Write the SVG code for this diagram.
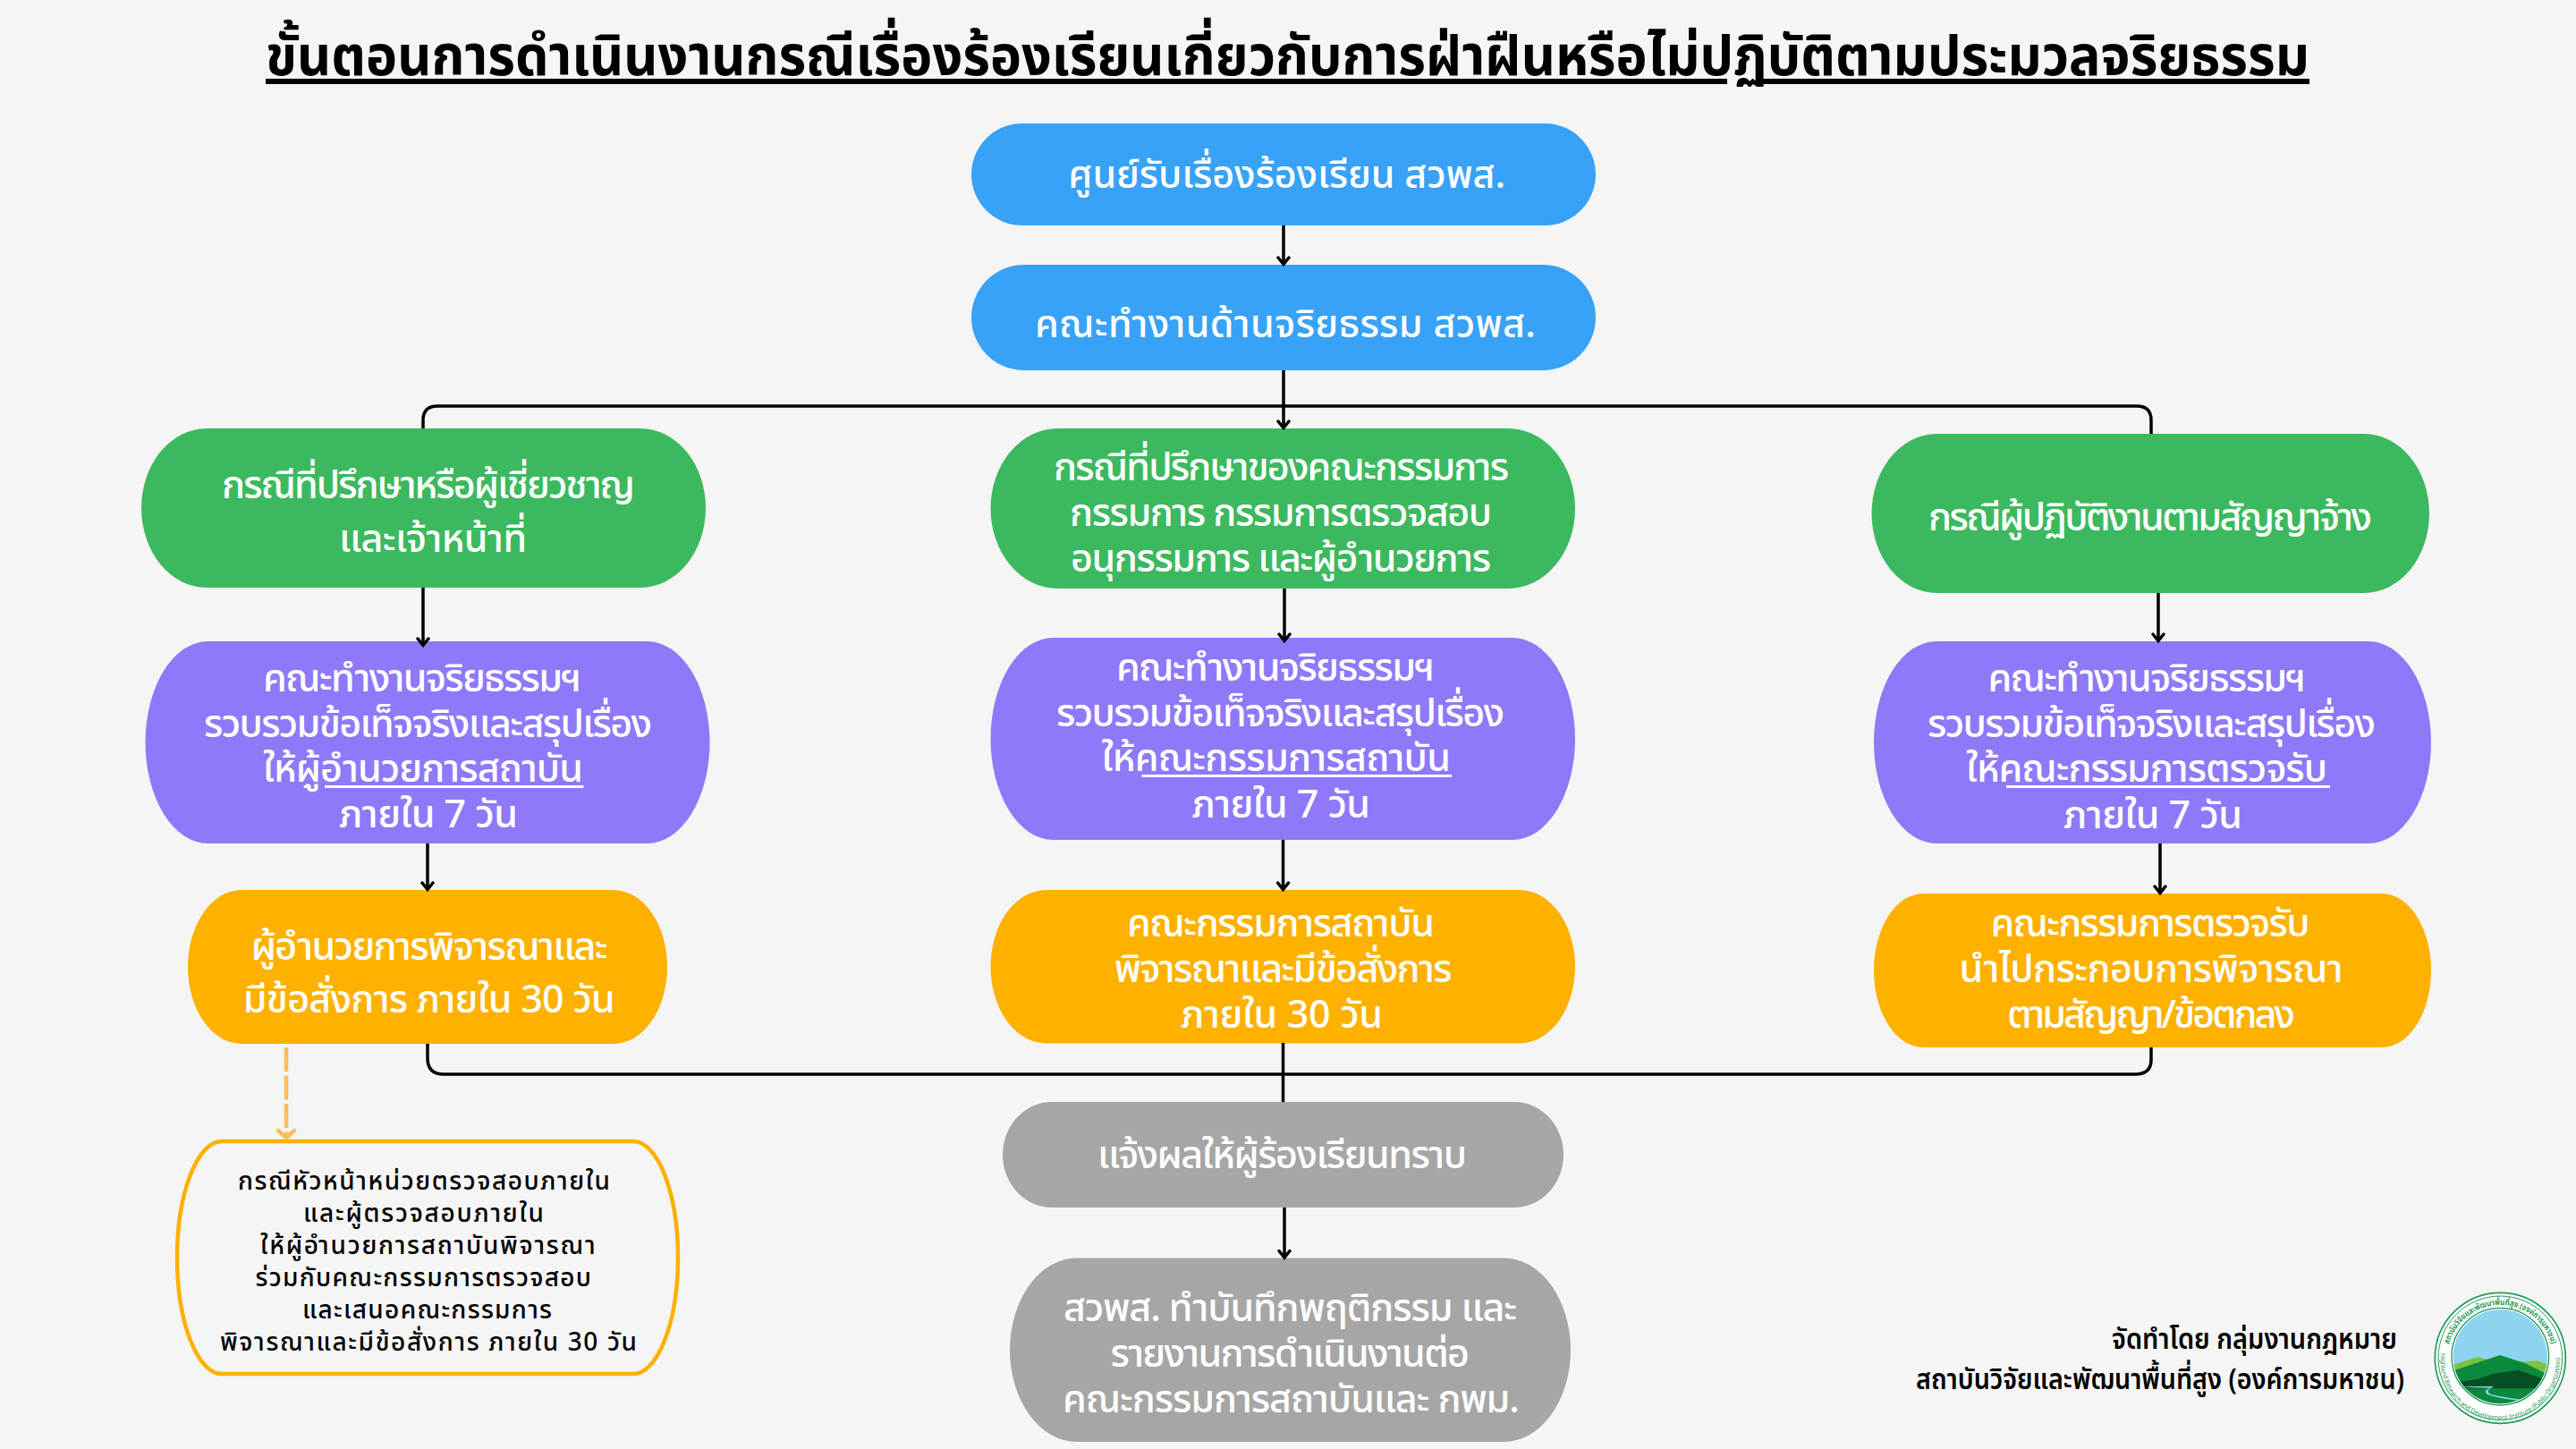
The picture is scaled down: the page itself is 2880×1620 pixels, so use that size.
<svg xmlns="http://www.w3.org/2000/svg" xmlns:xlink="http://www.w3.org/1999/xlink" width="2880" height="1620" viewBox="0 0 2880 1620">
<style>
text{font-family:"Noto Sans","Noto Sans Thai","DejaVu Sans",sans-serif;}
.t{font-size:43px;font-weight:500;fill:#fff;}
.k{font-size:28px;font-weight:500;fill:#000;}
.f{font-size:32px;font-weight:600;fill:#000;}
.ttl{font-size:62px;font-weight:700;fill:#000;}
.blue{fill:#38A2F6}.green{fill:#3CB95F}.purple{fill:#8F79F9}.orange{fill:#FFB100}.gray{fill:#A6A6A6}
.c{fill:none;stroke:#000;stroke-width:3.5;}
.ul{fill:#fff}
</style>
<defs>
<marker id="a" markerUnits="userSpaceOnUse" markerWidth="20" markerHeight="16" refX="16" refY="8" orient="auto" viewBox="0 0 20 16"><path d="M8 2 L15.500 8 L8 14" fill="none" stroke="#000" stroke-width="3.500" stroke-linecap="round"/></marker>
<marker id="b" markerUnits="userSpaceOnUse" markerWidth="24" markerHeight="24" refX="18" refY="12" orient="auto" viewBox="0 0 24 24"><path d="M9 3 L17 12 L9 21" fill="none" stroke="#FFBD59" stroke-width="4.500" stroke-linecap="round"/></marker>
<clipPath id="lc"><circle cx="256" cy="245" r="158"/></clipPath>
<path id="up" d="M78 250 A178 178 0 0 1 434 250"/>
<path id="dn" d="M58.500 225.600 A200 200 0 1 0 453.500 225.600"/>
</defs>
<rect width="2880" height="1620" fill="#F5F5F5"/>

<g id="title">
<text class="ttl" x="297" y="84" textLength="2285" lengthAdjust="spacingAndGlyphs">ขั้นตอนการดำเนินงานกรณีเรื่องร้องเรียนเกี่ยวกับการฝ่าฝืนหรือไม่ปฏิบัติตามประมวลจริยธรรม</text>
<rect x="297" y="88" width="1634" height="6"/>
<rect x="1971" y="88" width="611" height="6"/>
</g>

<g id="n1"><rect class="blue" x="1086" y="138" width="698" height="114" rx="57" ry="57"/>
<text class="t" x="1194" y="210" textLength="489">ศูนย์รับเรื่องร้องเรียน สวพส.</text></g>
<g id="n2"><rect class="blue" x="1086" y="296" width="698" height="118" rx="59" ry="59"/>
<text class="t" x="1157" y="377" textLength="560">คณะทำงานด้านจริยธรรม สวพส.</text></g>

<g id="green-left"><rect class="green" x="158" y="479" width="631" height="178" rx="73" ry="89"/>
<text class="t" x="248" y="557" textLength="462">กรณีที่ปรึกษาหรือผู้เชี่ยวชาญ</text>
<text class="t" x="379" y="617" textLength="210">และเจ้าหน้าที่</text></g>
<g id="green-mid"><rect class="green" x="1107.500" y="479" width="653.500" height="179" rx="75" ry="89.500"/>
<text class="t" x="1178" y="537" textLength="509">กรณีที่ปรึกษาของคณะกรรมการ</text>
<text class="t" x="1196" y="588" textLength="472">กรรมการ กรรมการตรวจสอบ</text>
<text class="t" x="1197" y="639" textLength="470">อนุกรรมการ และผู้อำนวยการ</text></g>
<g id="green-right"><rect class="green" x="2092.500" y="485" width="623.500" height="178" rx="73" ry="89"/>
<text class="t" x="2156" y="593" textLength="496">กรณีผู้ปฏิบัติงานตามสัญญาจ้าง</text></g>

<g id="purple-left"><rect class="purple" x="162.500" y="717" width="631" height="226" rx="70" ry="113"/>
<text class="t" x="294" y="773" textLength="356">คณะทำงานจริยธรรมฯ</text>
<text class="t" x="228" y="824" textLength="501">รวบรวมข้อเท็จจริงและสรุปเรื่อง</text>
<text class="t" x="294" y="874" textLength="358">ให้ผู้อำนวยการสถาบัน</text>
<rect class="ul" x="339.500" y="878" width="7" height="3"/><rect class="ul" x="363" y="878" width="289.500" height="3"/>
<text class="t" x="379" y="925" textLength="200">ภายใน 7 วัน</text></g>
<g id="purple-mid"><rect class="purple" x="1107.500" y="713" width="653.500" height="226" rx="70" ry="113"/>
<text class="t" x="1248" y="761" textLength="356">คณะทำงานจริยธรรมฯ</text>
<text class="t" x="1181" y="812" textLength="501">รวบรวมข้อเท็จจริงและสรุปเรื่อง</text>
<text class="t" x="1231.500" y="862" textLength="390.500">ให้คณะกรรมการสถาบัน</text>
<rect class="ul" x="1276.500" y="866" width="346.500" height="3"/>
<text class="t" x="1332.500" y="914" textLength="199.500">ภายใน 7 วัน</text></g>
<g id="purple-right"><rect class="purple" x="2095" y="717" width="623" height="226" rx="70" ry="113"/>
<text class="t" x="2222.500" y="773" textLength="355.500">คณะทำงานจริยธรรมฯ</text>
<text class="t" x="2155" y="824" textLength="501">รวบรวมข้อเท็จจริงและสรุปเรื่อง</text>
<text class="t" x="2198" y="874" textLength="404">ให้คณะกรรมการตรวจรับ</text>
<rect class="ul" x="2243" y="878" width="362" height="3"/>
<text class="t" x="2307" y="926" textLength="200">ภายใน 7 วัน</text></g>

<g id="orange-left"><rect class="orange" x="210" y="995" width="536" height="172" rx="60" ry="86"/>
<text class="t" x="279" y="1073" textLength="399">ผู้อำนวยการพิจารณาและ</text>
<text class="t" x="271" y="1132" textLength="416">มีข้อสั่งการ ภายใน 30 วัน</text></g>
<g id="orange-mid"><rect class="orange" x="1107.500" y="995" width="653.500" height="171.500" rx="62" ry="85.750"/>
<text class="t" x="1260" y="1047" textLength="344">คณะกรรมการสถาบัน</text>
<text class="t" x="1244" y="1098" textLength="378">พิจารณาและมีข้อสั่งการ</text>
<text class="t" x="1320" y="1149" textLength="226">ภายใน 30 วัน</text></g>
<g id="orange-right"><rect class="orange" x="2095" y="999" width="623" height="172" rx="55" ry="86"/>
<text class="t" x="2225.500" y="1047" textLength="357">คณะกรรมการตรวจรับ</text>
<text class="t" x="2190" y="1098" textLength="429">นำไปกระกอบการพิจารณา</text>
<text class="t" x="2244" y="1149" textLength="322">ตามสัญญา/ข้อตกลง</text></g>

<g id="gray-notify"><rect class="gray" x="1121" y="1232" width="627" height="118" rx="55" ry="59"/>
<text class="t" x="1227" y="1306" textLength="413">แจ้งผลให้ผู้ร้องเรียนทราบ</text></g>
<g id="gray-record"><rect class="gray" x="1129" y="1406.500" width="627" height="205.500" rx="75" ry="102.750"/>
<text class="t" x="1189" y="1477" textLength="507">สวพส. ทำบันทึกพฤติกรรม และ</text>
<text class="t" x="1241.500" y="1528" textLength="401.500">รายงานการดำเนินงานต่อ</text>
<text class="t" x="1188" y="1579" textLength="511">คณะกรรมการสถาบันและ กพม.</text></g>

<g id="note"><rect x="198" y="1276" width="560" height="260" rx="50" ry="130" fill="none" stroke="#FFB100" stroke-width="4.500"/>
<text class="k" x="266" y="1330" textLength="416">กรณีหัวหน้าหน่วยตรวจสอบภายใน</text>
<text class="k" x="339" y="1366" textLength="269">และผู้ตรวจสอบภายใน</text>
<text class="k" x="291" y="1402" textLength="374.500">ให้ผู้อำนวยการสถาบันพิจารณา</text>
<text class="k" x="285.500" y="1438" textLength="375.500">ร่วมกับคณะกรรมการตรวจสอบ</text>
<text class="k" x="338" y="1474" textLength="279">และเสนอคณะกรรมการ</text>
<text class="k" x="246" y="1510" textLength="466">พิจารณาและมีข้อสั่งการ ภายใน 30 วัน</text></g>

<g id="credit">
<text class="f" x="2361" y="1508" textLength="319" lengthAdjust="spacingAndGlyphs">จัดทำโดย กลุ่มงานกฎหมาย</text>
<text class="f" x="2142" y="1553" textLength="546" lengthAdjust="spacingAndGlyphs">สถาบันวิจัยและพัฒนาพื้นที่สูง (องค์การมหาชน)</text>
</g>

<g id="logo" transform="translate(2710 1435) scale(0.33333)">
<circle cx="256" cy="250" r="219" fill="#fff" stroke="#1E9A55" stroke-width="5"/>
<circle cx="256" cy="250" r="208" fill="none" stroke="#1E9A55" stroke-width="3"/>
<circle cx="256" cy="245" r="163" fill="#fff" stroke="#1E9A55" stroke-width="4"/>
<g clip-path="url(#lc)">
<rect x="90" y="80" width="340" height="330" fill="#8ED3F0"/>
<path d="M90 275 L180 246 L225 258 L350 262 L380 258 L425 275 V330 H90Z" fill="#7CC242"/>
<path d="M90 295 L190 262 L255 240 L340 268 L425 310 V420 H90Z" fill="#0B8A3E"/>
<path d="M115 330 L175 322 L235 302 L315 290 L425 328 V352 H115Z" fill="#064F24"/>
<path d="M120 345 H235 Q200 360 225 372 Q270 382 340 392 L335 395 Q260 388 212 372 Q198 358 222 350 Q170 350 120 345Z" fill="#8ED3F0"/>
</g>
<text font-size="28" font-weight="700" fill="#1E9A55"><textPath xlink:href="#up" href="#up" startOffset="46" textLength="466" lengthAdjust="spacingAndGlyphs">สถาบันวิจัยและพัฒนาพื้นที่สูง (องค์การมหาชน)</textPath></text>
<text font-size="22" font-weight="400" fill="#1E9A55"><textPath xlink:href="#dn" href="#dn" startOffset="8" textLength="660" lengthAdjust="spacingAndGlyphs">Highland Research and Development Institute (Public Organization)</textPath></text>
</g>

<g id="connectors">
<path class="c" marker-end="url(#a)" d="M1435 252V296"/>
<path class="c" marker-end="url(#a)" d="M1435 414V479"/>
<path class="c" d="M473 479V470Q473 454 489 454H2389Q2405 454 2405 470V485"/>
<path class="c" marker-end="url(#a)" d="M473 657V722"/>
<path class="c" marker-end="url(#a)" d="M1436 658V717"/>
<path class="c" marker-end="url(#a)" d="M2413 663V717"/>
<path class="c" marker-end="url(#a)" d="M478 943V995"/>
<path class="c" marker-end="url(#a)" d="M1434.500 939V995"/>
<path class="c" marker-end="url(#a)" d="M2415 943V999"/>
<path class="c" d="M478 1167V1183Q478 1201 496 1201H2387Q2405 1201 2405 1185V1171"/>
<path class="c" d="M1434.500 1166V1232"/>
<path class="c" marker-end="url(#a)" d="M1436 1350V1406.500"/>
<path d="M320 1171V1273" fill="none" stroke="#FFBD59" stroke-width="4.500" stroke-dasharray="27 4.500" marker-end="url(#b)"/>
</g>
</svg>
